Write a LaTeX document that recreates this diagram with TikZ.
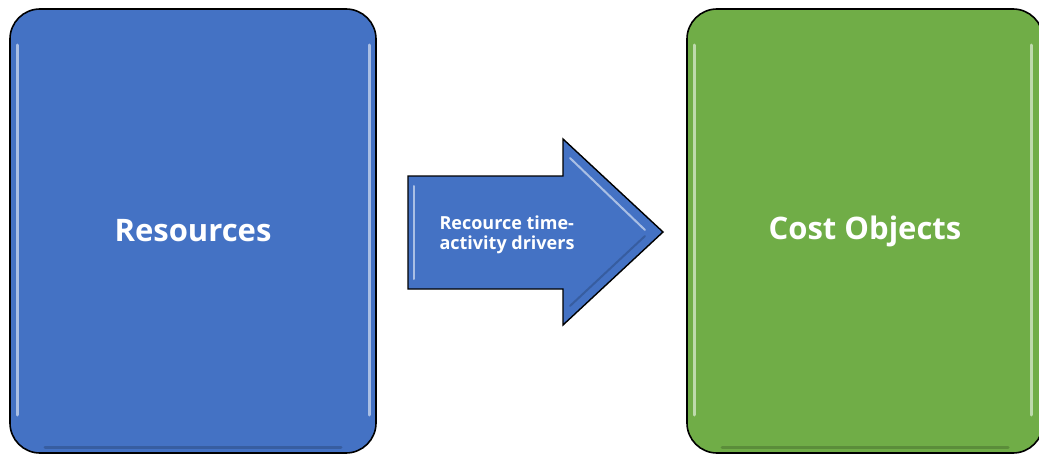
\documentclass[tikz,border=0pt]{standalone}
\usepackage{fontspec}
\setmainfont{Open Sans}
\begin{document}
\begin{tikzpicture}[x=1pt,y=-1pt,
  panel/.style={draw=black, line width=1.6pt, rounded corners=30pt, text=white, font=\bfseries\fontsize{31}{36}\selectfont},
  gloss/.style={line width=3pt, white, opacity=0.55, line cap=round},
  shade/.style={line width=3pt, black, opacity=0.18, line cap=round}]
\useasboundingbox (0,0) rectangle (1039,455);
\definecolor{blueA}{HTML}{4472C4}
\definecolor{greenA}{HTML}{70AD47}
% Resources panel
\node[panel, fill=blueA, minimum width=366pt, minimum height=444pt] (res) at (193,231) {Resources};
\draw[gloss] (17,45) -- (17,415);
\draw[gloss] (369,45) -- (369,415);
\draw[shade] (45,447) -- (341,447);
% Cost objects panel
\node[panel, fill=greenA, minimum width=356pt, minimum height=444pt] (cost) at (865,231) {Cost Objects};
\draw[gloss] (694,45) -- (694,415);
\draw[gloss] (1031,45) -- (1031,415);
\draw[shade] (722,447) -- (1008,447);
% arrow
\draw[draw=black, line width=1.4pt, fill=blueA, line join=miter]
  (408,176) -- (563,176) -- (563,139) -- (663,232) -- (563,325) -- (563,289) -- (408,289) -- cycle;
\draw[gloss, line width=2pt] (414,186) -- (414,279);
\draw[gloss, line width=2pt] (570,158) -- (645,230);
\draw[shade, line width=2pt] (570,306) -- (645,236);
\node[text=white, font=\bfseries\fontsize{18}{20}\selectfont, align=left] (drv) at (507,235) {Recource time-\\activity drivers};
\end{tikzpicture}
\end{document}
